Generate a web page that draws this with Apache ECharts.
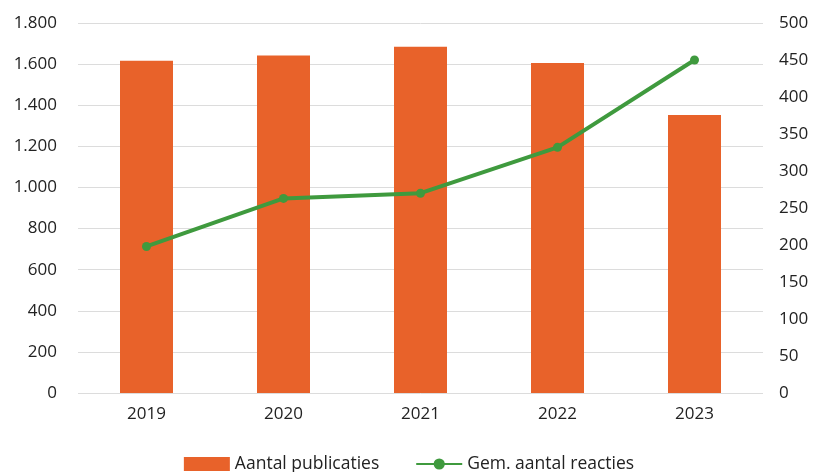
<!DOCTYPE html>
<html><head><meta charset="utf-8">
<script src="https://cdn.jsdelivr.net/npm/echarts@6/dist/echarts.min.js"></script>
<style>html,body{margin:0;padding:0;background:#fff}#c{width:818px;height:472px}</style>
</head><body><div id="c"></div>
<script>
const years = ['2019','2020','2021','2022','2023'];
const publicaties = [1616, 1642, 1684, 1606, 1353];
const reacties = [198, 263, 270, 332, 450];
const leftTicks = {min:0, max:1800, interval:200};
const rightTicks = {min:0, max:500, interval:50};

const fmt = v => String(v).replace(/\B(?=(\d{3})+(?!\d))/g, '.');
const font = 'Open Sans';
const chart = echarts.init(document.getElementById('c'), null, {renderer:'canvas'});
chart.setOption({
  animation:false,
  textStyle:{fontFamily:font},
  grid:{left:78, right:55, top:23, bottom:79, containLabel:false},
  legend:{
    bottom:-6, left:'center', itemGap:36, itemWidth:46, itemHeight:14,
    textStyle:{fontSize:17.5, color:'#222', fontFamily:font},
    data:[{name:'Aantal publicaties', icon:'rect'}, {name:'Gem. aantal reacties'}]
  },
  xAxis:{type:'category', data:years,
    axisLine:{show:false}, axisTick:{show:false},
    axisLabel:{fontSize:17, color:'#222', margin:13}},
  yAxis:[
    {type:'value', min:leftTicks.min, max:leftTicks.max, interval:leftTicks.interval,
     axisLabel:{fontSize:17, color:'#222', margin:21, formatter:fmt},
     splitLine:{lineStyle:{color:'#dcdcdc', width:1}}},
    {type:'value', min:rightTicks.min, max:rightTicks.max, interval:rightTicks.interval,
     position:'right',
     axisLabel:{fontSize:17, color:'#222', margin:16, align:'left'},
     splitLine:{show:false}}
  ],
  series:[
    {name:'Aantal publicaties', type:'bar', data:publicaties, barWidth:53,
     itemStyle:{color:'#E8622A'}},
    {name:'Gem. aantal reacties', type:'line', yAxisIndex:1, data:reacties,
     symbol:'circle', symbolSize:9,
     lineStyle:{color:'#3F9A3E', width:4},
     itemStyle:{color:'#3F9A3E'}}
  ]
});
</script></body></html>
